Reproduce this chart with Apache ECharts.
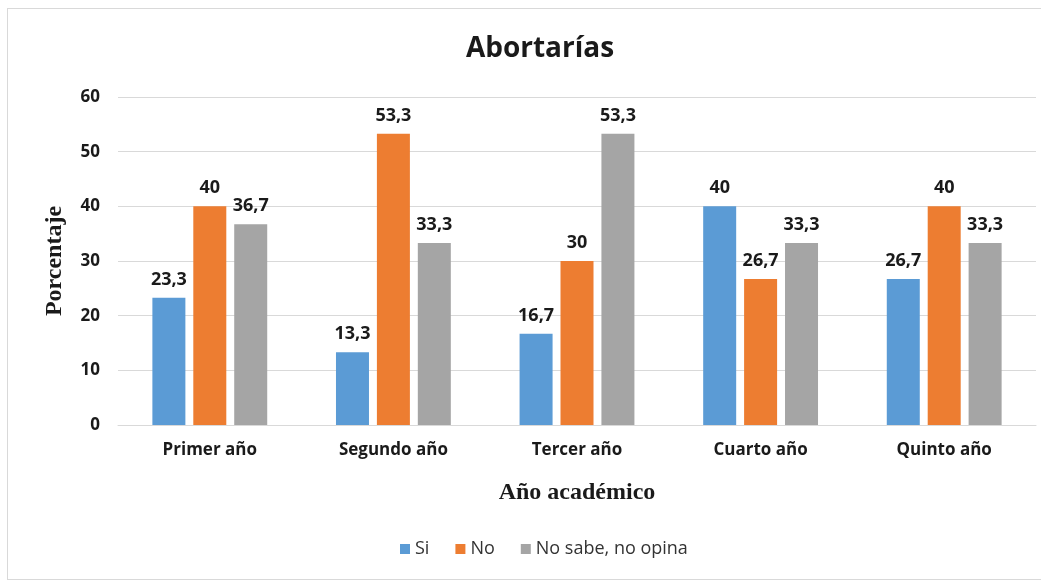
<!DOCTYPE html>
<html>
<head>
<meta charset="utf-8">
<script src="https://cdn.jsdelivr.net/npm/echarts@6/dist/echarts.min.js"></script>
<style>
  html, body { margin: 0; padding: 0; background: #fff; }
  #chart { width: 1041px; height: 583px; }
  #frame { position: absolute; left: 7px; top: 8px; width: 1040px; height: 570px; border: 1px solid #d9d9d9; pointer-events: none; }
</style>
</head>
<body>
<div id="chart"></div>
<div id="frame"></div>
<script>
// categorías y valores (%)
const categories = ["Primer año", "Segundo año", "Tercer año", "Cuarto año", "Quinto año"];
const siValues = [23.3, 13.3, 16.7, 40, 26.7];
const noValues = [40, 53.3, 30, 26.7, 40];
const nsncValues = [36.7, 33.3, 53.3, 33.3, 33.3];
const seriesNames = ["Si", "No", "No sabe, no opina"];
const colors = ["#5B9BD5", "#ED7D31", "#A5A5A5"];

const myChart = echarts.init(document.getElementById("chart"));

const labelStyle = {
  show: true,
  position: "top",
  distance: 9,
  color: "#1a1a1a",
  fontFamily: "Open Sans",
  fontWeight: "bold",
  fontSize: 18,
  formatter: (p) => String(p.value).replace(".", ","),
};

const makeSeries = (name, data, i) => ({
  name: name,
  type: "bar",
  data: data,
  barWidth: 33,
  barGap: "24%",
  itemStyle: { color: colors[i] },
  label: labelStyle,
});

const option = {
  animation: false,
  title: {
    text: "Abortarías",
    left: 535,
    top: 30,
    textAlign: "center",
    textStyle: { fontFamily: "Open Sans", fontWeight: "bold", fontSize: 28, color: "#1a1a1a" },
  },
  legend: {
    data: seriesNames,
    bottom: 20,
    left: 395,
    itemWidth: 10,
    itemHeight: 10,
    itemGap: 26,
    icon: "rect",
    textStyle: { fontFamily: "Open Sans", fontSize: 18, color: "#333" },
  },
  grid: { left: 118, right: 5, top: 97, bottom: 158 },
  xAxis: {
    type: "category",
    data: categories,
    name: "Año académico",
    nameLocation: "middle",
    nameGap: 56,
    nameTextStyle: { fontFamily: "Liberation Serif", fontWeight: "bold", fontSize: 24, color: "#1a1a1a" },
    axisLine: { lineStyle: { color: "#d9d9d9", width: 1 } },
    axisTick: { show: false },
    axisLabel: { fontFamily: "Open Sans", fontWeight: "bold", fontSize: 17, color: "#1a1a1a", margin: 17 },
  },
  yAxis: {
    type: "value",
    min: 0,
    max: 60,
    interval: 10,
    name: "Porcentaje",
    nameLocation: "middle",
    nameGap: 51,
    nameTextStyle: { fontFamily: "Liberation Serif", fontWeight: "bold", fontSize: 24, color: "#1a1a1a" },
    axisLine: { show: false },
    axisTick: { show: false },
    axisLabel: { fontFamily: "Open Sans", fontWeight: "bold", fontSize: 17, color: "#1a1a1a", margin: 18 },
    splitLine: { lineStyle: { color: "#d9d9d9", width: 1 } },
  },
  series: [
    makeSeries(seriesNames[0], siValues, 0),
    makeSeries(seriesNames[1], noValues, 1),
    makeSeries(seriesNames[2], nsncValues, 2),
  ],
};

myChart.setOption(option);
</script>
</body>
</html>
